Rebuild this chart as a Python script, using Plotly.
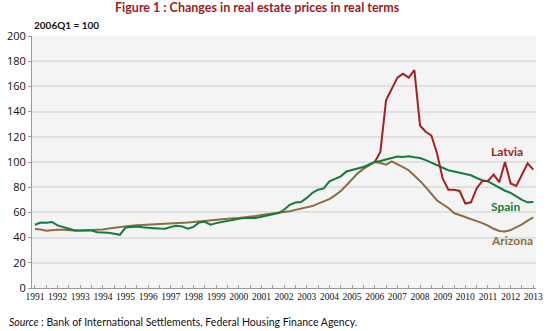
import plotly.graph_objects as go

# quarterly index, 2006Q1 = 100
start_year = 1991
spain = [50.2, 52, 51.7, 52.4, 49.7, 48.1, 47, 45.7,
         45.7, 45.8, 45.6, 44.2, 44, 43.8, 43, 42.2,
         48, 48.6, 48.9, 48.3, 47.6, 47.5, 47.2, 47,
         48.5, 49.4, 48.9, 47, 48.5, 52, 52.5, 50.2,
         51.5, 52.5, 53.5, 54.2, 55, 55.6, 55.6, 55.6,
         56.5, 57.6, 58.5, 59.5, 62.1, 66, 67.9, 68.3,
         71.5, 75.5, 78, 79, 84.6, 86.7, 88.6, 92.5,
         93.5, 94.5, 96, 98, 100, 100.8, 101.8, 103,
         104.4, 104, 104.5, 103.7, 103.2, 101.5, 99.5, 97.5,
         95.5, 93.5, 92.5, 91.5, 90.3, 89.5, 87.3, 85.5,
         84.6, 82, 80, 77.2, 75.5, 72.5, 70, 68, 68.3]
arizona = [46.8, 46.5, 45.5, 46, 46.3, 46.2, 45.8, 45.7,
           45.7, 45.8, 45.7, 46, 46.5, 47.2, 47.8, 48.5,
           49.2, 49.5, 49.8, 50, 50.2, 50.4, 50.6, 50.8,
           51, 51.3, 51.6, 52, 52.4, 52.8, 53.5, 54.2,
           54.4, 54.7, 55, 55.3, 55.6, 56, 56.5, 57.2,
           58, 58.5, 59.2, 60, 60.4, 61, 62, 63,
           64, 65, 67, 68.5, 70.5, 73.5, 77, 81.5,
           86.5, 91, 94.5, 97.5, 100, 99.2, 97.9, 100.5,
           98.5, 96, 93.5, 89.5, 85, 80, 75, 69.5,
           66.5, 63.5, 59.5, 58, 56.5, 55, 53.5, 51.5,
           49.5, 47, 45.3, 44.9, 46, 48, 50.5, 53.5, 56]
latvia_start = 2006
latvia = [100, 108, 149, 158, 167, 170, 167, 173,
          129, 124, 121, 107, 87, 78, 78, 77,
          67, 68, 79, 85, 85, 90, 84, 100,
          83, 81, 90, 99, 94]

year_labels = [str(y) for y in range(1991, 2014)]
y_ticks = [0, 20, 40, 60, 80, 100, 120, 140, 160, 180, 200]

series_names = ["Latvia", "Spain", "Arizona"]
colors = {"Latvia": "#a3221e", "Spain": "#127c3c", "Arizona": "#8c6c45"}

x_main = [start_year + i / 4 for i in range(len(spain))]
x_lat = [latvia_start + i / 4 for i in range(len(latvia))]

fig = go.Figure()
fig.add_trace(go.Scatter(x=x_main, y=arizona, mode="lines", name="Arizona",
                         line=dict(color=colors["Arizona"], width=2)))
fig.add_trace(go.Scatter(x=x_main, y=spain, mode="lines", name="Spain",
                         line=dict(color=colors["Spain"], width=2)))
fig.add_trace(go.Scatter(x=x_lat, y=latvia, mode="lines", name="Latvia",
                         line=dict(color=colors["Latvia"], width=2)))

tickvals = []
ticktext = []
for i, lab in enumerate(year_labels):
    tickvals.append(1991 + i)
    ticktext.append(lab)
    if i < len(year_labels) - 1:
        tickvals.append(1991 + i + 0.5)
        ticktext.append("")

fig.update_layout(
    width=550, height=331,
    margin=dict(l=28, r=7, t=36, b=43),
    paper_bgcolor="white",
    plot_bgcolor="#f4f4f4",
    showlegend=False,
    font=dict(family="Lato", color="#111"),
    xaxis=dict(range=[1990.87, 2013.12], tickvals=tickvals, ticktext=ticktext,
               tickangle=0, ticklabeloverflow="allow",
               ticks="inside", ticklen=3, tickcolor="#999", showgrid=False,
               showline=True, linecolor="#999", linewidth=1, zeroline=False,
               tickfont=dict(family="Liberation Sans Narrow", size=9.5, color="#111")),
    yaxis=dict(range=[0, 200], tickvals=y_ticks, ticks="outside", ticklen=3,
               tickcolor="#999", showgrid=True, gridcolor="#e1e1e1", gridwidth=1.5,
               showline=True, linecolor="#999", linewidth=1, zeroline=False,
               tickfont=dict(family="Open Sans", size=11, color="#111")),
)

label_pos = {"Latvia": (2011.84, 108.7), "Spain": (2011.78, 64.5), "Arizona": (2012.08, 37.9)}
for nm in series_names:
    lx, ly = label_pos[nm]
    fig.add_annotation(x=lx, y=ly, text="<b>" + nm + "</b>", showarrow=False,
                       font=dict(family="Lato", size=12, color=colors[nm]),
                       xanchor="center", yanchor="middle")

fig.add_annotation(xref="paper", yref="paper", x=0.4476, y=1.115,
                   text="<b>Figure 1 : Changes in real estate prices in real terms</b>",
                   showarrow=False, xanchor="center", yanchor="middle",
                   font=dict(family="Lato", size=12.5, color="#9e1c1f"))
fig.add_annotation(xref="paper", yref="paper", x=0.0, y=1.045,
                   text="<b>2006Q1 = 100</b>", showarrow=False,
                   xanchor="left", yanchor="middle",
                   font=dict(family="Lato", size=10, color="#111"))
fig.add_annotation(xref="paper", yref="paper", x=-0.0505, y=-0.134,
                   text="<i>Source</i> : Bank of International Settlements, Federal Housing Finance Agency.",
                   showarrow=False, xanchor="left", yanchor="middle",
                   font=dict(family="Lato", size=10.5, color="#111"))

fig.write_html("out.html")
